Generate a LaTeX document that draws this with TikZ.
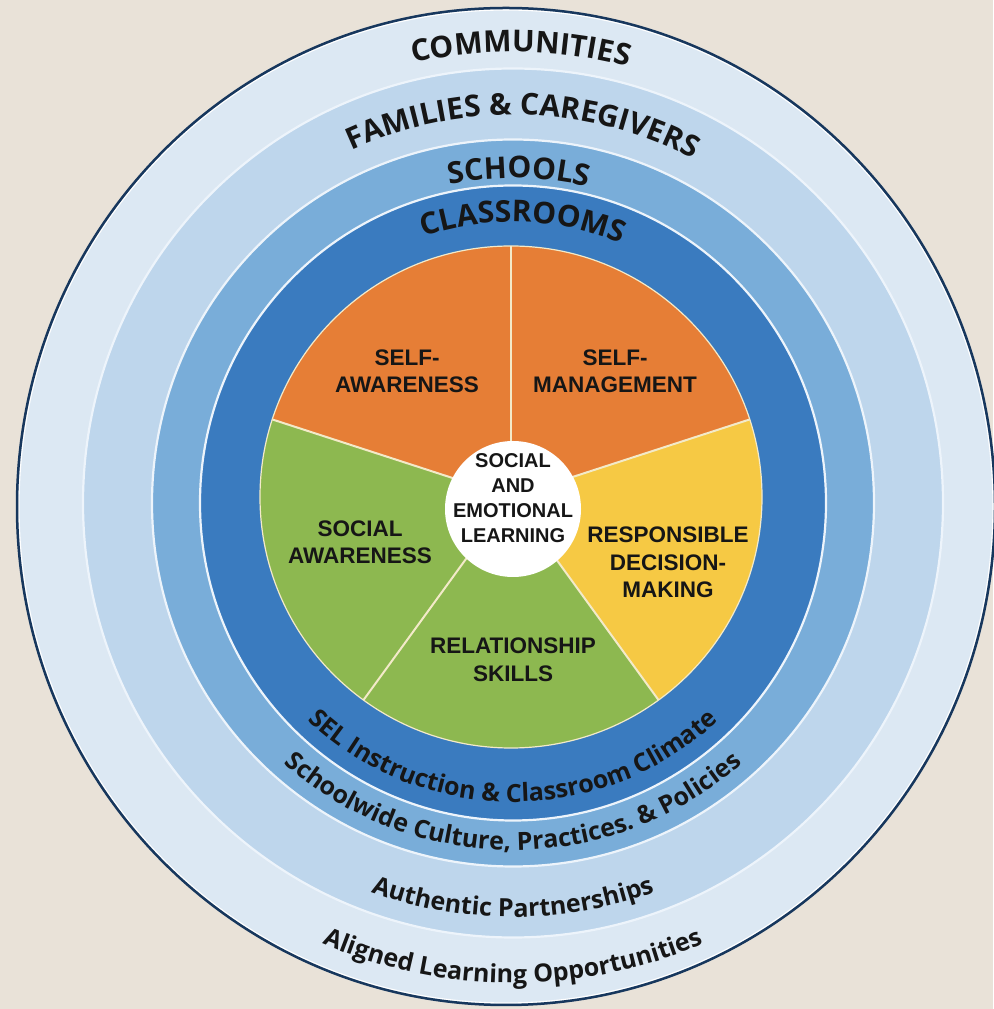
\documentclass[tikz,border=0pt]{standalone}
\usepackage{fontspec}
\newfontfamily\ringfont{Open Sans}
\newfontfamily\piefont{Liberation Sans}
\usetikzlibrary{decorations.text}
\definecolor{bgc}{HTML}{E9E2D8}
\definecolor{commc}{HTML}{DCE8F3}
\definecolor{famc}{HTML}{BED6EC}
\definecolor{schc}{HTML}{79ADD9}
\definecolor{clsc}{HTML}{3A7BBF}
\definecolor{orc}{HTML}{E67E36}
\definecolor{grc}{HTML}{8DB850}
\definecolor{yec}{HTML}{F6C944}
\definecolor{navyc}{HTML}{17375D}
\definecolor{sepc}{HTML}{EDF4FB}
\definecolor{divc}{HTML}{F3EAC9}
\definecolor{txtc}{HTML}{161616}
\begin{document}
\begin{tikzpicture}[x=1pt,y=1pt,
  ringtext/.style={decorate, decoration={text along path, text align=center, text color=txtc, text={#1}}},
  pielabel/.style={align=center, text=txtc, inner sep=0pt, font=\piefont\bfseries\fontsize{22.5}{27.5}\selectfont},
  sep/.style={draw=sepc, line width=2.2pt}]
\useasboundingbox (0,0) rectangle (993,1009);
\fill[bgc] (0,0) rectangle (993,1009);
% rings
\coordinate (C) at (513,506);
\coordinate (O) at (506,502.5);
\fill[commc] (O) ellipse [x radius=489, y radius=498.5];
\draw[white, line width=1.2pt] (O) ellipse [x radius=487, y radius=496.5];
\draw[navyc, line width=2.5pt] (O) ellipse [x radius=489, y radius=498.5];
\fill[famc, sep] (C) ellipse [x radius=430, y radius=434.5];
\fill[schc, sep] (C) ellipse [x radius=361, y radius=363.5];
\fill[clsc, sep] (C) ellipse [x radius=313, y radius=317.5];
% pie
\coordinate (P) at (511,512);
\fill[orc] (P) -- ++(18:251) arc[start angle=18, end angle=90, radius=251] -- cycle;
\fill[orc] (P) -- ++(90:251) arc[start angle=90, end angle=162, radius=251] -- cycle;
\fill[grc] (P) -- ++(162:251) arc[start angle=162, end angle=234, radius=251] -- cycle;
\fill[grc] (P) -- ++(234:251) arc[start angle=234, end angle=306, radius=251] -- cycle;
\fill[yec] (P) -- ++(306:251) arc[start angle=306, end angle=378, radius=251] -- cycle;
\draw[divc, line width=1.2pt] (P) circle[radius=251];
\foreach \a in {18,90,162,234,306} \draw[divc, line width=2pt] (P) -- ++(\a:251);
\fill[white] (513,500) circle[radius=68];
% pie labels
\node[pielabel] (sa) at (407,637.5) {SELF-\\AWARENESS};
\node[pielabel] (sm) at (615,637.5) {SELF-\\MANAGEMENT};
\node[pielabel] (soa) at (360,466.5) {SOCIAL\\AWARENESS};
\node[pielabel] (rdm) at (668,446.5) {RESPONSIBLE\\DECISION-\\MAKING};
\node[pielabel] (rs) at (513,349) {RELATIONSHIP\\SKILLS};
\node[pielabel, font=\piefont\bfseries\fontsize{20}{25}\selectfont] (sel) at (513,511) {SOCIAL\\AND\\EMOTIONAL\\LEARNING};
% ring texts top
\path[ringtext={|\ringfont\bfseries\fontsize{30}{35}\selectfont|COMMUNITIES}] (C) ++(179:451) arc[start angle=179, end angle=-1, radius=451];
\path[ringtext={|\ringfont\bfseries\fontsize{30}{35}\selectfont|FAMILIES {\&} CAREGIVERS}] (C) ++(178.5:388) arc[start angle=178.5, end angle=-1.5, radius=388];
\path[ringtext={|\ringfont\bfseries\fontsize{30}{35}\selectfont|SCHOOLS}] (C) ++(179:325) arc[start angle=179, end angle=-1, radius=325];
\path[ringtext={|\ringfont\bfseries\fontsize{30}{35}\selectfont|CLASSROOMS}] (C) ++(178:281) arc[start angle=178, end angle=-2, radius=281];
% ring texts bottom
\path[ringtext={|\ringfont\bfseries\fontsize{25}{30}\selectfont|SEL Instruction {\&} Classroom Climate}] (C) ++(180:299) arc[start angle=180, end angle=360, radius=299];
\path[ringtext={|\ringfont\bfseries\fontsize{25}{30}\selectfont|Schoolwide Culture, Practices. {\&} Policies}] (C) ++(180:347) arc[start angle=180, end angle=360, radius=347];
\path[ringtext={|\ringfont\bfseries\fontsize{25}{30}\selectfont|Authentic Partnerships}] (C) ++(180:414) arc[start angle=180, end angle=360, radius=414];
\path[ringtext={|\ringfont\bfseries\fontsize{25}{30}\selectfont|Aligned Learning Opportunities}] (C) ++(180:480) arc[start angle=180, end angle=360, radius=480];
\end{tikzpicture}
\end{document}
